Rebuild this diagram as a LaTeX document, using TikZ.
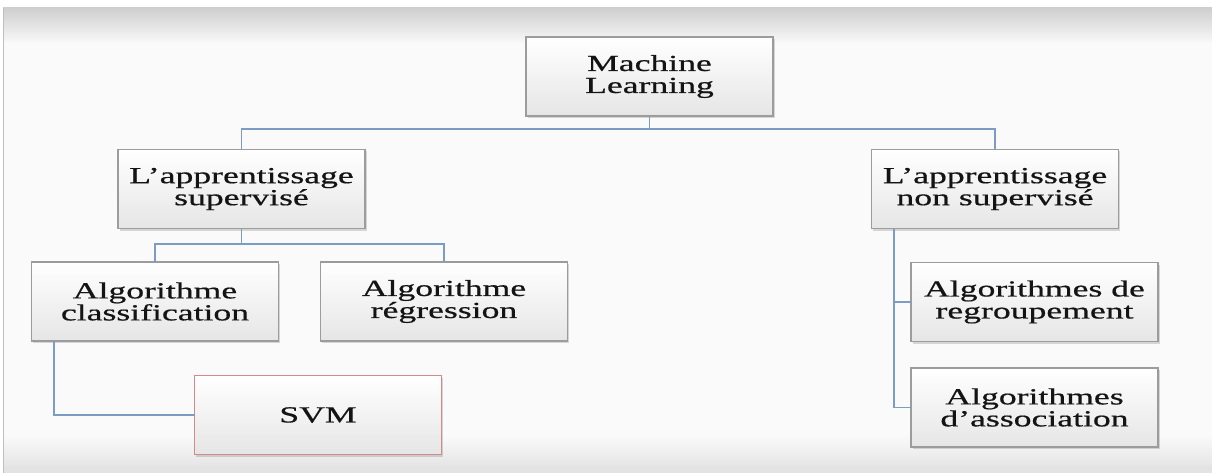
\documentclass[tikz,border=0pt]{standalone}
\usepackage{fontspec}
\setmainfont[FakeStretch=1.55,FakeBold=0.6]{Liberation Serif}
\usetikzlibrary{shadows}
\definecolor{conn}{HTML}{7B9CC4}
\definecolor{bord}{HTML}{9C9C9C}
\definecolor{svmred}{HTML}{D38A8A}
\definecolor{txt}{HTML}{141414}
\begin{document}
\begin{tikzpicture}[x=1pt,y=-1pt,
  box/.style={draw=bord, line width=1.5pt, rectangle, minimum width=247pt, minimum height=79pt,
    inner sep=0pt, outer sep=0pt, top color=white, bottom color=black!10, align=center, text=txt,
    font=\fontsize{23}{22}\selectfont,
    drop shadow={shadow xshift=1.5pt, shadow yshift=-2pt, opacity=0.3}},
  svmbox/.style={box, draw=svmred},
  link/.style={draw=conn, line width=1.4pt}]
\useasboundingbox (0,0) rectangle (1212,473);
% background
\fill[white] (0,0) rectangle (1212,473);
\fill[black!2] (3,42) rectangle (1212,435);
\shade[top color=black!19, bottom color=black!3] (3,8) rectangle (1212,42);
\shade[top color=black!2, bottom color=black!10] (3,435) rectangle (1212,466);
\fill[black!11] (3,466) rectangle (1212,473);
\draw[black!25, line width=1pt] (3.5,8) -- (3.5,473);
% nodes
\node[box] (ml) at (649.5,76.5) {Machine\\Learning};
\node[box] (sup) at (241.5,189) {L’apprentissage\\supervisé};
\node[box] (nsup) at (995,189) {L’apprentissage\\non supervisé};
\node[box] (cls) at (155,301.5) {Algorithme\\classification};
\node[box] (reg) at (444,301.5) {Algorithme\\régression};
\node[svmbox] (svm) at (318,415) {SVM};
\node[box] (grp) at (1034.5,302) {Algorithmes de\\regroupement};
\node[box] (asso) at (1034.5,407.5) {Algorithmes\\d’association};
% helper coordinates
\coordinate (h1) at (0,129);
\coordinate (h2) at (0,244);
\coordinate (cx) at (54,0);
\coordinate (nx) at (894,0);
% connectors
\draw[link] (ml.south) -- (ml.south |- h1);
\draw[link] (sup.north) |- (nsup.north |- h1) -- (nsup.north);
\draw[link] (sup.south) -- (sup.south |- h2);
\draw[link] (cls.north) |- (reg.north |- h2) -- (reg.north);
\draw[link] (cls.south -| cx) |- (svm.west);
\draw[link] (nsup.south -| nx) |- (asso.west);
\draw[link] (nx |- grp.west) -- (grp.west);
\end{tikzpicture}
\end{document}
